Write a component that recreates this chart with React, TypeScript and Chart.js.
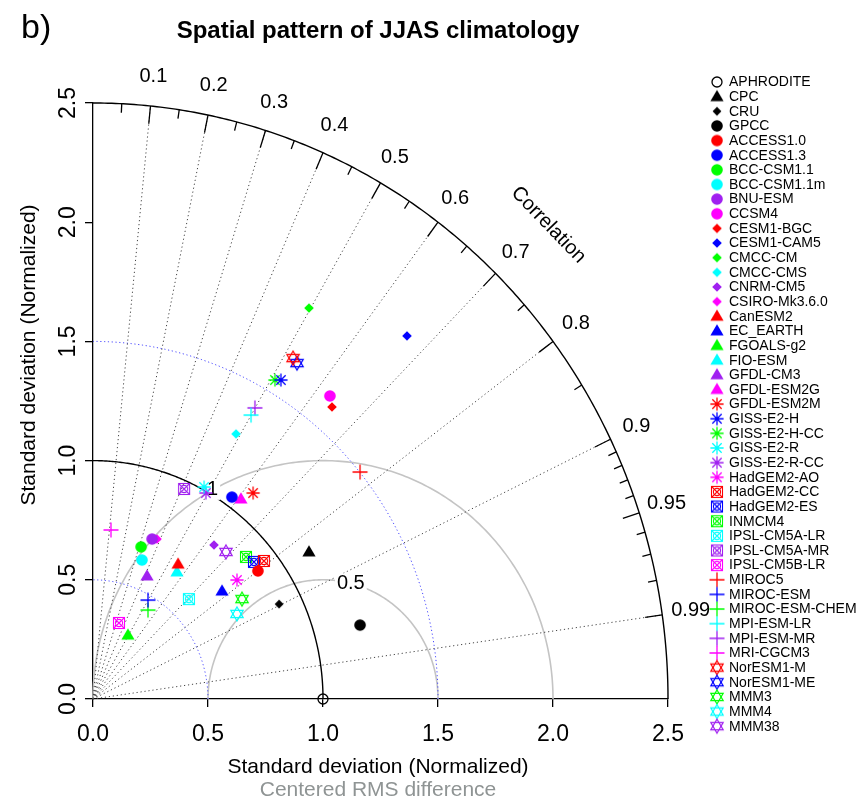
import React, { useEffect, useRef } from 'react';
import { Chart, registerables } from 'chart.js';
Chart.register(...registerables);

const FONT = '"Liberation Sans", Arial, Helvetica, sans-serif';

const modelNames = [
  'APHRODITE', 'CPC', 'CRU', 'GPCC',
  'ACCESS1.0', 'ACCESS1.3', 'BCC-CSM1.1', 'BCC-CSM1.1m', 'BNU-ESM', 'CCSM4',
  'CESM1-BGC', 'CESM1-CAM5', 'CMCC-CM', 'CMCC-CMS', 'CNRM-CM5', 'CSIRO-Mk3.6.0',
  'CanESM2', 'EC_EARTH', 'FGOALS-g2', 'FIO-ESM', 'GFDL-CM3', 'GFDL-ESM2G',
  'GFDL-ESM2M', 'GISS-E2-H', 'GISS-E2-H-CC', 'GISS-E2-R', 'GISS-E2-R-CC', 'HadGEM2-AO',
  'HadGEM2-CC', 'HadGEM2-ES', 'INMCM4', 'IPSL-CM5A-LR', 'IPSL-CM5A-MR', 'IPSL-CM5B-LR',
  'MIROC5', 'MIROC-ESM', 'MIROC-ESM-CHEM', 'MPI-ESM-LR', 'MPI-ESM-MR', 'MRI-CGCM3',
  'NorESM1-M', 'NorESM1-ME', 'MMM3', 'MMM4', 'MMM38',
];

// normalized std * correlation (horizontal component)
const modelX = [
  1.0, 0.939, 0.809, 1.161,
  0.717, 0.604, 0.209, 0.213, 0.257, 1.030,
  1.039, 1.365, 0.939, 0.622, 0.526, 0.278,
  0.370, 0.561, 0.152, 0.365, 0.235, 0.643,
  0.696, 0.817, 0.791, 0.483, 0.491, 0.626,
  0.743, 0.700, 0.665, 0.417, 0.396, 0.113,
  1.161, 0.239, 0.239, 0.687, 0.704, 0.078,
  0.870, 0.887, 0.648, 0.626, 0.578,
];
// normalized std * sqrt(1 - correlation^2) (vertical component)
const modelY = [
  0.0, 0.617, 0.398, 0.310,
  0.537, 0.847, 0.638, 0.583, 0.671, 1.271,
  1.225, 1.523, 1.640, 1.112, 0.646, 0.671,
  0.566, 0.453, 0.268, 0.533, 0.516, 0.839,
  0.864, 1.338, 1.338, 0.889, 0.864, 0.499,
  0.579, 0.575, 0.596, 0.419, 0.881, 0.319,
  0.952, 0.415, 0.373, 1.191, 1.221, 0.709,
  1.430, 1.409, 0.419, 0.357, 0.617,
];

const symbolShapes = [
  'ocircle', 'triangle', 'smalldiamond', 'circle',
  ...Array(6).fill('circle'), ...Array(6).fill('diamond'), ...Array(6).fill('triangle'),
  ...Array(6).fill('asterisk'), ...Array(6).fill('boxx'), ...Array(6).fill('plus'),
  ...Array(5).fill('david'),
];
const palette = ['#FF0000', '#0000FF', '#00FF00', '#00FFFF', '#A020F0', '#FF00FF'];
const symbolColors = [
  '#000000', '#000000', '#000000', '#000000',
  ...palette, ...palette, ...palette, ...palette, ...palette, ...palette,
  ...palette.slice(0, 5),
];

const axisTicks = [0, 0.5, 1.0, 1.5, 2.0, 2.5];
const corrMajor = [0.1, 0.2, 0.3, 0.4, 0.5, 0.6, 0.7, 0.8, 0.9, 0.95, 0.99];
const corrMinor = [0.05, 0.15, 0.25, 0.35, 0.45, 0.55, 0.65, 0.75, 0.85, 0.91, 0.92, 0.93, 0.94, 0.96, 0.97, 0.98];
const corrLines = [0.1, 0.2, 0.3, 0.4, 0.5, 0.6, 0.7, 0.8, 0.9, 0.99];
const stdGridArcs = [0.5, 1.5];
const refStd = 1.0;
const maxStd = 2.5;
const rmsArcs = [0.5, 1.0];
const rmsLabels = ['0.5', '1'];

let legendSymbols: HTMLCanvasElement[] = [];

function makeSymbol(shape: string, color: string): HTMLCanvasElement {
  const S = 24, c = 12;
  const cv = document.createElement('canvas');
  cv.width = S; cv.height = S;
  const g = cv.getContext('2d')!;
  g.strokeStyle = color; g.fillStyle = color; g.lineWidth = 1.3;
  const tri = (up: boolean, hw: number, top: number, bot: number) => {
    g.beginPath();
    if (up) { g.moveTo(c, c - top); g.lineTo(c + hw, c + bot); g.lineTo(c - hw, c + bot); }
    else { g.moveTo(c, c + top); g.lineTo(c + hw, c - bot); g.lineTo(c - hw, c - bot); }
    g.closePath();
  };
  switch (shape) {
    case 'ocircle': g.beginPath(); g.arc(c, c, 5, 0, Math.PI * 2); g.stroke(); break;
    case 'circle': g.beginPath(); g.arc(c, c, 5.8, 0, Math.PI * 2); g.fill(); break;
    case 'triangle': tri(true, 6.6, 6.8, 4.6); g.fill(); break;
    case 'diamond':
    case 'smalldiamond': {
      const h = shape === 'diamond' ? 4.8 : 4.4;
      g.beginPath(); g.moveTo(c, c - h); g.lineTo(c + h, c); g.lineTo(c, c + h); g.lineTo(c - h, c); g.closePath(); g.fill();
      break;
    }
    case 'asterisk': {
      const h = 6.6, d = h * Math.SQRT1_2;
      g.beginPath();
      g.moveTo(c - h, c); g.lineTo(c + h, c); g.moveTo(c, c - h); g.lineTo(c, c + h);
      g.moveTo(c - d, c - d); g.lineTo(c + d, c + d); g.moveTo(c - d, c + d); g.lineTo(c + d, c - d);
      g.stroke(); break;
    }
    case 'plus': {
      const h = 7.5;
      g.beginPath(); g.moveTo(c - h, c); g.lineTo(c + h, c); g.moveTo(c, c - h); g.lineTo(c, c + h); g.stroke();
      break;
    }
    case 'boxx': {
      const h = 5.5;
      g.lineWidth = 1.1;
      g.strokeRect(c - h, c - h, 2 * h, 2 * h);
      g.beginPath(); g.moveTo(c - h, c - h); g.lineTo(c + h, c + h); g.moveTo(c - h, c + h); g.lineTo(c + h, c - h); g.stroke();
      g.beginPath(); g.arc(c, c, 3.6, 0, Math.PI * 2); g.stroke();
      break;
    }
    case 'david': {
      g.lineWidth = 1.2;
      tri(true, 6.2, 7, 3.6); g.stroke();
      tri(false, 6.2, 7, 3.6); g.stroke();
      break;
    }
  }
  return cv;
}

const taylorPlugin = {
  id: 'taylor',
  beforeDatasetsDraw(chart: any) {
    const { ctx } = chart;
    const xs = chart.scales.x, ys = chart.scales.y;
    const px = (v: number) => xs.getPixelForValue(v);
    const py = (v: number) => ys.getPixelForValue(v);
    const arc = (cx: number, cy: number, r: number, a0: number, a1: number) => {
      ctx.beginPath();
      const n = 240;
      for (let k = 0; k <= n; k++) {
        const a = a0 + (a1 - a0) * k / n;
        const X = px(cx + r * Math.cos(a)), Y = py(cy + r * Math.sin(a));
        if (k === 0) ctx.moveTo(X, Y); else ctx.lineTo(X, Y);
      }
    };
    const sinOf = (c: number) => Math.sqrt(1 - c * c);
    ctx.save();

    // centered RMS difference arcs
    ctx.strokeStyle = '#c4c4c4'; ctx.lineWidth = 1.6; ctx.setLineDash([]);
    rmsArcs.forEach((g) => { arc(refStd, 0, g, 0, Math.PI); ctx.stroke(); });

    // std grid arcs (blue dotted)
    ctx.strokeStyle = 'rgba(40,40,255,0.85)'; ctx.lineWidth = 1; ctx.setLineDash([1.2, 2.6]);
    stdGridArcs.forEach((r) => { arc(0, 0, r, 0, Math.PI / 2); ctx.stroke(); });

    // correlation rays
    ctx.strokeStyle = '#444'; ctx.lineWidth = 1; ctx.setLineDash([1.2, 2.8]);
    corrLines.forEach((c) => {
      ctx.beginPath(); ctx.moveTo(px(0), py(0)); ctx.lineTo(px(maxStd * c), py(maxStd * sinOf(c))); ctx.stroke();
    });

    // reference std arc and outer arc
    ctx.setLineDash([]); ctx.strokeStyle = '#000'; ctx.lineWidth = 1.4;
    arc(0, 0, refStd, 0, Math.PI / 2); ctx.stroke();
    arc(0, 0, maxStd, 0, Math.PI / 2); ctx.stroke();

    // ticks on the outer arc
    ctx.lineWidth = 1.3;
    const tick = (c: number, f: number) => {
      ctx.beginPath();
      ctx.moveTo(px(maxStd * c), py(maxStd * sinOf(c)));
      ctx.lineTo(px(maxStd * f * c), py(maxStd * f * sinOf(c)));
      ctx.stroke();
    };
    corrMajor.forEach((c) => tick(c, 0.97));
    corrMinor.forEach((c) => tick(c, 0.985));

    // correlation labels
    ctx.fillStyle = '#000'; ctx.font = `20px ${FONT}`; ctx.textAlign = 'center'; ctx.textBaseline = 'middle';
    corrMajor.forEach((c) => {
      const r = maxStd * 1.05;
      ctx.fillText(String(c), px(r * c), py(r * sinOf(c)));
    });
    // "Correlation" label
    const rc = maxStd * 1.125, ca = Math.cos(Math.PI / 4);
    ctx.save();
    ctx.translate(px(rc * ca) - 2, py(rc * ca));
    ctx.rotate(Math.atan2(py(0) - py(1), px(1) - px(0)));
    ctx.fillText('Correlation', 0, 0);
    ctx.restore();

    // RMS labels with white background
    const angles = [76, 118.7];
    rmsArcs.forEach((g, i) => {
      const a = angles[i] * Math.PI / 180;
      const X = px(refStd + g * Math.cos(a)), Y = py(g * Math.sin(a));
      const w = ctx.measureText(rmsLabels[i]).width;
      ctx.fillStyle = '#fff';
      ctx.fillRect(X - w / 2 - 2, Y - 10, w + 4, 20);
      ctx.fillStyle = '#000';
      ctx.fillText(rmsLabels[i], X, Y);
    });
    ctx.restore();
  },
  afterDraw(chart: any) {
    const { ctx } = chart;
    ctx.save();
    ctx.fillStyle = '#000';
    ctx.textAlign = 'center'; ctx.textBaseline = 'middle';
    ctx.font = `bold 24px ${FONT}`;
    ctx.fillText('Spatial pattern of JJAS climatology', 378, 31);
    ctx.font = `34px ${FONT}`;
    ctx.textAlign = 'left';
    ctx.fillText('b)', 21, 29);
    ctx.textAlign = 'center';
    ctx.font = `21px ${FONT}`;
    ctx.fillText('Standard deviation (Normalized)', 378, 767);
    ctx.fillStyle = '#8f9494';
    ctx.fillText('Centered RMS difference', 378, 790);
    ctx.fillStyle = '#000';
    ctx.save();
    ctx.translate(29, 355);
    ctx.rotate(-Math.PI / 2);
    ctx.fillText('Standard deviation (Normalized)', 0, 0);
    ctx.restore();

    // legend
    ctx.font = `14px ${FONT}`;
    ctx.textAlign = 'left';
    modelNames.forEach((name, i) => {
      const yy = 82 + i * 14.64;
      const s = legendSymbols[i];
      if (s) ctx.drawImage(s, 717 - s.width / 2, yy - s.height / 2);
      ctx.fillText(name, 729, yy + 0.5);
    });
    ctx.restore();
  },
};

export default function App() {
  const ref = useRef<HTMLCanvasElement>(null);
  useEffect(() => {
    document.body.style.margin = '0';
    const canvas = ref.current!;
    const symbols = modelNames.map((_, i) => makeSymbol(symbolShapes[i], symbolColors[i]));
    legendSymbols = symbols;
    const tickFont = { family: FONT, size: 23 };
    const chart: any = new Chart(canvas, {
      type: 'scatter',
      data: {
        datasets: modelNames.map((name, i) => ({
          label: name,
          data: [{ x: modelX[i], y: modelY[i] }],
          pointStyle: symbols[i] as any,
          pointRadius: 6,
          clip: false as any,
        })),
      },
      options: {
        responsive: false,
        animation: false,
        devicePixelRatio: 1,
        layout: { padding: { left: 0, top: 103, right: 197, bottom: 0 } },
        plugins: { legend: { display: false }, tooltip: { enabled: false }, title: { display: false } },
        scales: {
          x: {
            type: 'linear', min: 0, max: maxStd, position: 'bottom',
            afterFit: (s: any) => { s.height = 110; },
            afterBuildTicks: (s: any) => { s.ticks = axisTicks.map((v) => ({ value: v })); },
            ticks: { callback: (v: any) => Number(v).toFixed(1), font: tickFont, color: '#000', padding: 14, maxRotation: 0, minRotation: 0 },
            grid: { drawOnChartArea: false, drawTicks: true, tickLength: 8, color: '#000', lineWidth: 1.3 },
            border: { display: true, color: '#000', width: 1.3 },
          },
          y: {
            type: 'linear', min: 0, max: maxStd, position: 'left',
            afterFit: (s: any) => { s.width = 93; },
            afterBuildTicks: (s: any) => { s.ticks = axisTicks.map((v) => ({ value: v })); },
            ticks: { callback: (v: any) => Number(v).toFixed(1), font: tickFont, color: '#000', padding: 0, minRotation: 90, maxRotation: 90, crossAlign: 'center' },
            grid: { drawOnChartArea: false, drawTicks: true, tickLength: 8, color: '#000', lineWidth: 1.3 },
            border: { display: true, color: '#000', width: 1.3 },
          },
        },
      },
      plugins: [taylorPlugin],
    });
    return () => chart.destroy();
  }, []);
  return (
    <div style={{ width: 865, height: 809 }}>
      <canvas ref={ref} width={865} height={809} style={{ display: 'block' }} />
    </div>
  );
}
